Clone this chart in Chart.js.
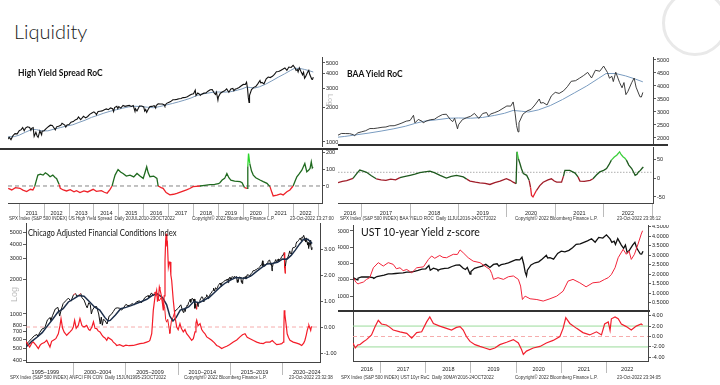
<!DOCTYPE html>
<html>
<head>
<meta charset="utf-8">
<title>Liquidity</title>
<script src="https://cdn.jsdelivr.net/npm/chart.js@4.4.1/dist/chart.umd.min.js"></script>
<style>
  html, body { margin: 0; padding: 0; background: #fff; }
  #page { position: relative; width: 720px; height: 385px; overflow: hidden; background: #fff; font-family: Lato, "Liberation Sans", sans-serif; color: #222; }
  canvas { position: absolute; }
  .txt { position: absolute; white-space: nowrap; line-height: 1; }
  .head { font-weight: 700; color: #111; }
  .foot { font-family: "Liberation Sans", Arial, sans-serif; font-size: 9px; transform: scale(0.5); transform-origin: 0 0; color: #333; }
  .bar { position: absolute; height: 2px; background: #333; }
  .log { position: absolute; color: #bbb; font-family: "Liberation Sans", sans-serif; white-space: nowrap; line-height: 1; }
</style>
</head>
<body>
<div id="page">
  <div class="txt" style="left:14px;top:21px;font-size:20px;font-weight:300;color:#1a1a1a">Liquidity</div>
  <div style="position:absolute;left:662px;top:-10px;width:60px;height:60px;border-radius:50%;border:3px solid #e9e9e9"></div>

  <canvas id="c1a" width="344" height="90" style="left:8px;top:57px"></canvas>
  <canvas id="c1b" width="344" height="68" style="left:8px;top:150px"></canvas>
  <canvas id="c2a" width="345" height="87" style="left:338px;top:57px"></canvas>
  <canvas id="c2b" width="345" height="71" style="left:338px;top:147px"></canvas>
  <canvas id="c3" width="350" height="152" style="left:0px;top:223px"></canvas>
  <canvas id="c4a" width="340" height="85" style="left:338px;top:225px"></canvas>
  <canvas id="c4b" width="340" height="61" style="left:338px;top:312px"></canvas>

  <div class="bar" style="left:0px;top:148px;width:338px"></div>
  <div class="bar" style="left:338px;top:144px;width:330px"></div>
  <div class="bar" style="left:338px;top:310px;width:312px"></div>

  <div class="txt head" style="left:18px;top:69px;font-size:8.5px">High Yield Spread RoC</div>
  <div class="txt head" style="left:347px;top:70px;font-size:8.5px">BAA Yield RoC</div>
  <div class="txt" style="left:28px;top:228px;font-size:9.8px;color:#111;transform:scaleX(0.78);transform-origin:0 0">Chicago Adjusted Financial Conditions Index</div>
  <div class="txt" style="left:361px;top:227px;font-size:10.5px;color:#111">UST 10-year Yield z-score</div>

  <div class="log" style="top:94px;font-size:7px;transform:rotate(90deg);transform-origin:0 0;left:334px">Log</div>
  <div class="log" style="left:10px;top:302px;font-size:9px;transform:rotate(-90deg);transform-origin:0 0">Log</div>

  <div class="txt foot" style="left:9px;top:215.5px">SPX Index (S&amp;P 500 INDEX) US High Yield Spread&nbsp; Daily 20JUL2010-23OCT2022</div>
  <div class="txt foot" style="left:192px;top:215.5px">Copyright© 2022 Bloomberg Finance L.P.</div>
  <div class="txt foot" style="left:290px;top:215.5px">23-Oct-2022 13:27:00</div>
  <div class="txt foot" style="left:340px;top:215.5px">SPX Index (S&amp;P 500 INDEX) BAA YIELD ROC&nbsp; Daily 11JUL2016-24OCT2022</div>
  <div class="txt foot" style="left:515px;top:215.5px">Copyright© 2022 Bloomberg Finance L.P.</div>
  <div class="txt foot" style="left:617px;top:215.5px">23-Oct-2022 23:36:12</div>
  <div class="txt foot" style="left:10px;top:374.5px">SPX Index (S&amp;P 500 INDEX) ANFCI FIN CON&nbsp; Daily 15JUN1995-23OCT2022</div>
  <div class="txt foot" style="left:184px;top:374.5px">Copyright© 2022 Bloomberg Finance L.P.</div>
  <div class="txt foot" style="left:289px;top:374.5px">23-Oct-2022 23:32:38</div>
  <div class="txt foot" style="left:341px;top:374.5px">SPX Index (S&amp;P 500 INDEX) UST 10yr RoC&nbsp; Daily 30MAY2016-24OCT2022</div>
  <div class="txt foot" style="left:515px;top:374.5px">Copyright© 2022 Bloomberg Finance L.P.</div>
  <div class="txt foot" style="left:617px;top:374.5px">23-Oct-2022 23:34:05</div>
</div>

<script>
// ---- data (decimal year, value) ----
const spx = [
  [1995.45,545],[1995.75,582],[1996.0,615],[1996.25,650],[1996.5,665],[1996.6,640],[1996.75,690],[1997.0,745],
  [1997.25,760],[1997.5,890],[1997.75,930],[1997.83,880],[1998.0,975],[1998.25,1105],[1998.5,1140],[1998.67,960],
  [1998.83,1100],[1999.0,1230],[1999.25,1300],[1999.5,1370],[1999.75,1290],[2000.0,1470],[2000.2,1500],[2000.3,1420],
  [2000.5,1450],[2000.7,1500],[2000.8,1380],[2001.0,1320],[2001.2,1180],[2001.3,1130],[2001.45,1250],[2001.6,1200],
  [2001.7,1000],[2001.8,1080],[2002.0,1150],[2002.2,1160],[2002.4,1000],[2002.55,820],[2002.65,940],[2002.75,800],
  [2002.85,900],[2003.0,880],[2003.2,820],[2003.4,960],[2003.6,990],[2003.8,1050],[2004.0,1120],[2004.2,1130],
  [2004.4,1120],[2004.6,1080],[2004.8,1140],[2005.0,1210],[2005.2,1180],[2005.4,1190],[2005.6,1230],[2005.8,1200],
  [2006.0,1270],[2006.3,1300],[2006.45,1250],[2006.6,1280],[2006.8,1380],[2007.0,1420],[2007.15,1440],[2007.2,1390],
  [2007.45,1520],[2007.6,1440],[2007.8,1550],[2008.0,1420],[2008.2,1300],[2008.4,1400],[2008.55,1250],[2008.7,1160],
  [2008.8,900],[2008.9,850],[2009.0,900],[2009.15,735],[2009.2,680],[2009.35,870],[2009.5,930],[2009.7,1060],
  [2009.9,1100],[2010.0,1120],[2010.25,1200],[2010.4,1080],[2010.5,1030],
  [2010.55,1070],[2010.6,1100],[2010.67,1050],[2010.75,1140],[2010.83,1185],[2010.92,1180],[2011.0,1258],[2011.08,1286],
  [2011.14,1340],[2011.2,1260],[2011.25,1326],[2011.33,1364],[2011.42,1345],[2011.47,1270],[2011.5,1320],[2011.56,1340],
  [2011.6,1120],[2011.67,1220],[2011.72,1130],[2011.76,1100],[2011.83,1253],[2011.9,1160],[2011.92,1247],[2012.0,1258],
  [2012.08,1312],[2012.17,1366],[2012.25,1408],[2012.33,1398],[2012.42,1310],[2012.45,1280],[2012.5,1362],[2012.58,1379],
  [2012.67,1406],[2012.72,1465],[2012.83,1412],[2012.87,1355],[2012.92,1416],[2013.0,1426],[2013.08,1498],[2013.17,1515],
  [2013.25,1569],[2013.33,1598],[2013.38,1669],[2013.47,1575],[2013.5,1606],[2013.58,1686],[2013.67,1633],[2013.75,1682],
  [2013.83,1757],[2013.92,1806],[2014.0,1848],[2014.08,1782],[2014.1,1741],[2014.17,1859],[2014.25,1872],[2014.33,1884],
  [2014.42,1924],[2014.5,1960],[2014.58,1931],[2014.67,2003],[2014.75,1972],[2014.79,1862],[2014.83,2018],[2014.92,2068],
  [2014.96,1972],[2015.0,2059],[2015.08,1995],[2015.17,2105],[2015.25,2068],[2015.33,2086],[2015.42,2107],[2015.5,2063],
  [2015.58,2104],[2015.65,1867],[2015.67,1972],[2015.73,1881],[2015.75,1920],[2015.83,2079],[2015.92,2080],[2016.0,2044],
  [2016.04,1880],[2016.08,1940],[2016.12,1829],[2016.17,1932],[2016.25,2060],[2016.33,2065],[2016.42,2097],[2016.48,2000],
  [2016.5,2099],[2016.58,2174],[2016.67,2171],[2016.75,2168],[2016.83,2126],[2016.85,2085],[2016.92,2199],[2017.0,2239],
  [2017.08,2279],[2017.17,2364],[2017.25,2363],[2017.33,2384],[2017.42,2412],[2017.5,2423],[2017.58,2470],[2017.67,2472],
  [2017.75,2519],[2017.83,2575],[2017.92,2648],[2018.0,2674],[2018.07,2873],[2018.1,2581],[2018.17,2714],[2018.25,2641],
  [2018.27,2582],[2018.33,2648],[2018.42,2705],[2018.5,2718],[2018.58,2816],[2018.67,2902],[2018.75,2914],[2018.83,2711],
  [2018.88,2630],[2018.92,2760],[2018.98,2351],[2019.0,2507],[2019.08,2704],[2019.17,2784],[2019.25,2834],[2019.33,2946],
  [2019.42,2752],[2019.5,2942],[2019.58,2980],[2019.62,2840],[2019.67,2926],[2019.75,2977],[2019.83,3038],[2019.92,3141],
  [2020.0,3231],[2020.08,3226],[2020.13,3386],[2020.17,2954],[2020.2,2480],[2020.23,2237],[2020.25,2585],[2020.33,2912],
  [2020.42,3044],[2020.5,3100],[2020.58,3271],[2020.67,3500],[2020.7,3340],[2020.75,3363],[2020.83,3270],[2020.92,3622],
  [2021.0,3756],[2021.08,3714],[2021.17,3811],[2021.25,3973],[2021.33,4181],[2021.42,4204],[2021.5,4298],[2021.58,4395],
  [2021.67,4523],[2021.75,4308],[2021.83,4605],[2021.92,4567],[2022.0,4766],[2022.08,4516],[2022.12,4300],[2022.17,4374],
  [2022.2,4170],[2022.25,4530],[2022.33,4132],[2022.38,3930],[2022.42,4132],[2022.46,3667],[2022.5,3785],[2022.58,4130],
  [2022.63,4305],[2022.67,3955],[2022.75,3586],[2022.78,3577],[2022.81,3752]
];

// moving average drawn in the two RoC panels
const spxMa = [
  [2010.45,1110],[2010.8,1115],[2011.0,1150],[2011.25,1220],[2011.5,1290],[2011.7,1285],[2011.9,1255],[2012.15,1255],
  [2012.4,1300],[2012.65,1340],[2012.9,1385],[2013.15,1420],[2013.4,1490],[2013.65,1560],[2013.9,1650],[2014.15,1720],
  [2014.4,1800],[2014.65,1870],[2014.9,1930],[2015.15,1990],[2015.4,2045],[2015.65,2070],[2015.9,2060],[2016.15,2030],
  [2016.4,2010],[2016.65,2060],[2016.9,2125],[2017.15,2190],[2017.4,2265],[2017.65,2350],[2017.9,2450],[2018.1,2560],
  [2018.3,2650],[2018.55,2700],[2018.8,2760],[2019.0,2770],[2019.25,2760],[2019.5,2790],[2019.75,2870],[2019.95,2950],
  [2020.13,3060],[2020.3,3030],[2020.45,3000],[2020.65,3080],[2020.9,3250],[2021.15,3480],[2021.4,3740],[2021.65,4000],
  [2021.9,4300],[2022.05,4480],[2022.25,4480],[2022.45,4390],[2022.65,4270],[2022.81,4160]
];

// moving average in the financial conditions panel
const spxMaLong = [
  [1995.45,520],[1996.0,580],[1996.5,630],[1997.0,690],[1997.5,790],[1998.0,900],[1998.5,1040],[1999.0,1110],
  [1999.5,1270],[2000.0,1350],[2000.5,1440],[2001.0,1420],[2001.5,1280],[2002.0,1150],[2002.5,1080],[2003.0,930],
  [2003.3,870],[2003.5,880],[2004.0,980],[2004.5,1110],[2005.0,1140],[2005.5,1180],[2006.0,1230],[2006.5,1280],
  [2007.0,1340],[2007.5,1440],[2008.0,1490],[2008.5,1390],[2008.9,1200],[2009.2,960],[2009.5,870],[2009.8,930],
  [2010.2,1080],[2010.6,1110],[2011.0,1150],[2011.5,1280],[2012.0,1250],[2012.5,1320],[2013.0,1400],[2013.5,1540],
  [2014.0,1700],[2014.5,1850],[2015.0,1960],[2015.5,2060],[2016.0,2040],[2016.5,2030],[2017.0,2140],[2017.5,2330],
  [2018.0,2520],[2018.5,2700],[2019.0,2720],[2019.5,2790],[2020.0,2980],[2020.4,2960],[2020.8,3200],[2021.2,3550],
  [2021.6,4000],[2022.0,4400],[2022.4,4400],[2022.81,4050]
];

const hyRoc = [
  [2010.56,-14],[2010.7,-24],[2010.85,-10],[2011.03,-14],[2011.15,-25],[2011.3,-34],[2011.45,-20],[2011.55,-24],
  [2011.62,-4],[2011.7,40],[2011.75,66],[2011.85,72],[2011.96,66],[2012.05,80],[2012.15,70],[2012.24,56],
  [2012.35,66],[2012.45,50],[2012.5,46],[2012.6,10],[2012.65,-14],[2012.77,-24],[2012.9,-30],[2013.05,-22],
  [2013.2,-35],[2013.3,-28],[2013.44,-40],[2013.6,-30],[2013.75,-36],[2013.97,-20],[2014.1,-32],[2014.3,-28],
  [2014.42,-38],[2014.53,-44],[2014.65,-20],[2014.73,0],[2014.8,40],[2014.85,66],[2014.97,100],[2015.07,85],
  [2015.17,76],[2015.3,60],[2015.45,66],[2015.6,55],[2015.73,76],[2015.85,60],[2015.98,46],[2016.05,80],
  [2016.12,116],[2016.18,80],[2016.25,56],[2016.4,60],[2016.53,46],[2016.58,0],[2016.7,-10],[2016.78,-14],
  [2016.9,-40],[2017.05,-54],[2017.2,-50],[2017.33,-44],[2017.5,-35],[2017.72,-24],[2017.85,-15],[2017.98,-4],
  [2018.1,-2],[2018.26,0],[2018.45,4],[2018.66,8],[2018.85,10],[2019.0,14],[2019.06,20],[2019.15,36],
  [2019.25,46],[2019.34,76],[2019.42,50],[2019.5,36],[2019.65,30],[2019.87,26],[2019.95,20],[2020.05,-10],
  [2020.15,-14],[2020.18,120],[2020.21,196],[2020.26,136],[2020.33,90],[2020.4,66],[2020.5,50],[2020.67,36],
  [2020.8,26],[2020.95,16],[2021.07,-4],[2021.15,-40],[2021.2,-60],[2021.35,-55],[2021.5,-48],[2021.6,-54],
  [2021.75,-35],[2021.87,-24],[2022.0,0],[2022.08,30],[2022.15,56],[2022.25,75],[2022.35,96],[2022.42,120],
  [2022.47,136],[2022.55,86],[2022.62,95],[2022.68,106],[2022.73,146],[2022.77,110],[2022.8,116]
];

const baaRoc = [
  [2016.51,-12],[2016.6,-9],[2016.69,-7],[2016.82,-1],[2016.9,12],[2016.96,21],[2017.03,18],[2017.1,15],
  [2017.2,6],[2017.3,-2],[2017.4,-5],[2017.5,-6],[2017.6,-3],[2017.7,-5],[2017.79,1],[2017.9,4],
  [2018.0,7],[2018.1,10],[2018.2,14],[2018.3,16],[2018.41,18],[2018.5,14],[2018.62,7],[2018.75,0],
  [2018.85,4],[2018.96,7],[2019.03,5],[2019.1,3],[2019.17,-3],[2019.24,-8],[2019.35,-11],[2019.44,-13],
  [2019.55,-14],[2019.65,-17],[2019.75,-12],[2019.86,-8],[2019.99,-2],[2020.07,-6],[2020.13,-11],[2020.19,-15],
  [2020.21,69],[2020.24,50],[2020.27,38],[2020.3,25],[2020.34,12],[2020.41,7],[2020.46,-6],[2020.49,-25],
  [2020.51,-46],[2020.54,-50],[2020.58,-40],[2020.61,-33],[2020.68,-20],[2020.75,-11],[2020.85,-5],[2020.92,-2],
  [2020.98,-8],[2021.03,-11],[2021.13,-11],[2021.17,5],[2021.2,20],[2021.3,20],[2021.41,13],[2021.47,3],
  [2021.51,-8],[2021.6,-9],[2021.72,-6],[2021.78,-2],[2021.85,8],[2021.92,16],[2022.0,20],[2022.06,25],
  [2022.11,35],[2022.16,47],[2022.22,55],[2022.27,60],[2022.33,69],[2022.36,62],[2022.4,56],[2022.44,52],
  [2022.47,47],[2022.52,34],[2022.58,25],[2022.62,15],[2022.65,7],[2022.69,10],[2022.72,16],[2022.76,20],
  [2022.79,25],[2022.82,29]
];

const anfci = [
  [1995.45,-0.55],[1995.6,-0.65],[1995.8,-0.77],[1996.0,-0.62],[1996.15,-0.58],[1996.4,-0.7],[1996.63,-0.83],[1996.8,-0.7],
  [1996.95,-0.64],[1997.2,-0.6],[1997.43,-0.51],[1997.6,-0.65],[1997.74,-0.77],[1997.9,-0.55],[1998.1,-0.5],[1998.3,-0.45],
  [1998.54,-0.26],[1998.7,0.05],[1998.8,0.32],[1998.95,-0.05],[1999.1,-0.2],[1999.34,-0.32],[1999.5,-0.25],[1999.66,-0.19],
  [1999.85,-0.1],[1999.97,0.0],[2000.1,0.26],[2000.25,-0.05],[2000.45,0.06],[2000.61,0.32],[2000.8,0.05],[2001.0,0.0],
  [2001.25,0.06],[2001.45,-0.1],[2001.57,-0.13],[2001.75,0.0],[2001.9,0.2],[2002.05,-0.05],[2002.21,-0.06],[2002.35,-0.15],
  [2002.52,-0.19],[2002.7,-0.3],[2002.84,-0.38],[2003.0,-0.42],[2003.17,-0.51],[2003.3,-0.4],[2003.48,-0.45],[2003.65,-0.5],
  [2003.8,-0.58],[2004.0,-0.65],[2004.12,-0.71],[2004.4,-0.68],[2004.75,-0.74],[2005.0,-0.7],[2005.3,-0.72],[2005.71,-0.71],
  [2006.0,-0.68],[2006.35,-0.64],[2006.7,-0.62],[2006.99,-0.58],[2007.2,-0.55],[2007.3,-0.51],[2007.47,-0.26],[2007.55,0.2],
  [2007.62,0.64],[2007.78,1.15],[2007.94,1.41],[2008.02,1.0],[2008.1,1.03],[2008.2,1.54],[2008.26,1.45],[2008.42,1.15],
  [2008.58,0.64],[2008.66,1.2],[2008.74,2.56],[2008.8,3.3],[2008.85,3.59],[2008.92,3.1],[2008.96,3.33],[2009.06,2.31],
  [2009.14,2.5],[2009.22,2.5],[2009.3,2.0],[2009.38,1.79],[2009.53,1.03],[2009.7,0.38],[2009.86,0.0],[2010.0,-0.1],
  [2010.17,0.13],[2010.3,-0.05],[2010.49,-0.19],[2010.65,-0.1],[2010.81,-0.26],[2011.0,-0.35],[2011.29,-0.51],[2011.45,-0.45],
  [2011.61,-0.19],[2011.7,0.15],[2011.77,0.26],[2011.9,0.05],[2012.09,0.13],[2012.25,-0.1],[2012.4,-0.19],[2012.55,-0.25],
  [2012.73,-0.38],[2013.0,-0.45],[2013.2,-0.51],[2013.45,-0.6],[2013.68,-0.71],[2013.9,-0.75],[2014.16,-0.83],[2014.4,-0.78],
  [2014.64,-0.74],[2014.9,-0.68],[2015.27,-0.58],[2015.6,-0.5],[2015.91,-0.38],[2016.15,-0.3],[2016.39,-0.26],[2016.6,-0.4],
  [2016.87,-0.45],[2017.2,-0.52],[2017.51,-0.58],[2017.8,-0.62],[2018.14,-0.64],[2018.4,-0.58],[2018.78,-0.58],[2019.0,-0.52],
  [2019.2,-0.6],[2019.42,-0.68],[2019.7,-0.66],[2019.9,-0.64],[2020.05,-0.58],[2020.1,-0.2],[2020.14,0.64],[2020.2,0.5],
  [2020.27,0.26],[2020.35,0.0],[2020.42,-0.26],[2020.55,-0.4],[2020.69,-0.51],[2021.0,-0.58],[2021.33,-0.62],[2021.6,-0.66],
  [2021.81,-0.71],[2022.0,-0.62],[2022.12,-0.51],[2022.25,-0.3],[2022.34,-0.13],[2022.45,0.02],[2022.5,0.06],[2022.6,-0.05],
  [2022.67,-0.13],[2022.73,0.0],[2022.77,0.03]
];

const ust10y = [
  [2016.41,1.8],[2016.45,1.6],[2016.5,1.5],[2016.54,1.54],[2016.62,1.6],[2016.69,1.74],[2016.76,1.83],[2016.84,2.35],
  [2016.95,2.62],[2017.06,2.44],[2017.17,2.62],[2017.28,2.53],[2017.35,2.3],[2017.43,2.35],[2017.5,2.2],[2017.58,2.26],
  [2017.69,2.09],[2017.8,2.35],[2017.95,2.4],[2018.06,2.79],[2018.13,2.97],[2018.2,2.85],[2018.31,3.0],[2018.38,2.9],
  [2018.46,2.88],[2018.61,3.06],[2018.7,3.05],[2018.76,3.29],[2018.83,3.14],[2018.94,2.88],[2019.05,2.7],[2019.2,2.62],
  [2019.31,2.44],[2019.42,2.26],[2019.46,2.05],[2019.5,1.74],[2019.6,1.83],[2019.72,1.74],[2019.83,1.88],[2019.94,1.92],
  [2020.05,1.74],[2020.1,1.39],[2020.14,0.68],[2020.2,0.86],[2020.31,0.72],[2020.46,0.68],[2020.6,0.6],[2020.75,0.72],
  [2020.9,0.86],[2021.04,1.12],[2021.15,1.65],[2021.26,1.74],[2021.41,1.56],[2021.55,1.35],[2021.7,1.56],[2021.85,1.6],
  [2021.96,1.74],[2022.04,1.83],[2022.11,2.0],[2022.19,2.35],[2022.26,2.88],[2022.37,3.32],[2022.44,3.06],[2022.5,3.23],
  [2022.55,2.79],[2022.62,3.06],[2022.7,3.6],[2022.77,4.12],[2022.8,4.3]
];

const ustZ = [
  [2016.39,-1.25],[2016.44,-2.2],[2016.5,-1.6],[2016.54,-1.56],[2016.62,-1.0],[2016.69,-0.6],[2016.8,0.3],[2016.88,1.9],
  [2016.95,3.1],[2017.02,2.4],[2017.13,2.2],[2017.2,1.8],[2017.28,1.25],[2017.43,0.9],[2017.58,0.6],[2017.69,-0.3],
  [2017.8,0.75],[2017.91,0.9],[2018.02,2.8],[2018.09,3.75],[2018.17,2.5],[2018.31,2.0],[2018.46,1.56],[2018.57,1.25],
  [2018.68,1.75],[2018.76,1.9],[2018.83,1.25],[2018.9,0],[2018.98,-0.94],[2019.09,-1.56],[2019.2,-1.9],[2019.31,-2.2],
  [2019.42,-2.5],[2019.53,-2.2],[2019.64,-1.56],[2019.79,-1.1],[2019.94,-0.6],[2020.05,-1.25],[2020.12,-2.5],[2020.16,-3.44],
  [2020.23,-2.8],[2020.38,-2.2],[2020.53,-1.9],[2020.67,-1.25],[2020.82,-0.75],[2020.97,0],[2021.04,1.56],[2021.1,3.6],
  [2021.19,2.5],[2021.34,1.56],[2021.48,0.75],[2021.63,0.3],[2021.78,0.9],[2021.89,0.3],[2021.96,2.4],[2022.04,2.8],
  [2022.08,1.2],[2022.11,3.4],[2022.19,3.75],[2022.26,3.4],[2022.33,2.4],[2022.44,1.9],[2022.55,1.25],[2022.66,2.0],
  [2022.77,2.4],[2022.8,2.2]
];

// reference levels
const hyZero = 0;
const baaRef = 15;
const afciZero = 0;
const zBands = [2, -2];
const zZero = 0;

// ticks and axis labels
const hyTicksUp = [1000, 2000, 3000, 4000, 5000];
const hyTicksLow = [0, 100, 200];
const baaTicksUp = [2000, 2500, 3000, 3500, 4000, 4500, 5000];
const baaTicksLow = [-50, 0, 50];
const afciTicksL = [400, 500, 600, 700, 800, 1000, 2000, 3000, 4000, 5000];
const afciTicksR = [-1, 0, 1, 2, 3];
const ustTicksL = [1000, 2000, 3000, 4000, 5000];
const ustTicksR = [0.5, 1, 1.5, 2, 2.5, 3, 3.5, 4, 4.5];
const ustTicksZ = [-4, -2, 0, 2, 4];
const hyYears = [2011, 2012, 2013, 2014, 2015, 2016, 2017, 2018, 2019, 2020, 2021, 2022];
const baaYears = [2016, 2017, 2018, 2019, 2020, 2021, 2022];
const ustYears = [2016, 2017, 2018, 2019, 2020, 2021, 2022];
const afciBandStart = [1995, 2000, 2005, 2010, 2015, 2020];
const afciBands = ['1995–1999', '2000–2004', '2005–2009', '2010–2014', '2015–2019', '2020–2024'];

// x ranges of each panel
const hyMin = 2010.55, hyMax = 2023.16;
const baaMin = 2016.51, baaMax = 2023.02;
const afciMin = 1995.45, afciMax = 2023.56;
const ustMin = 2016.39, ustMax = 2022.92;

Chart.defaults.font.family = '"Liberation Sans", Arial, sans-serif';

function pts(a) { return a.map(p => ({x: p[0], y: p[1]})); }
function from(a, x0) { return a.filter(p => p[0] >= x0); }

function line(data, color, width, axis, extra) {
  return Object.assign({
    data: pts(data), borderColor: color, borderWidth: width, pointRadius: 0,
    tension: 0, fill: false, yAxisID: axis || 'y'
  }, extra || {});
}

// horizontal reference line across the panel
function level(v, x0, x1, color, width, dash, axis) {
  return line([[x0, v], [x1, v]], color, width, axis, {borderDash: dash});
}

function yAxis(pos, type, min, max, ticks, digits, width) {
  return {
    type: type, position: pos, min: min, max: max, bounds: 'data',
    afterBuildTicks: s => { s.ticks = ticks.map(v => ({value: v})); },
    afterFit: s => { s.width = width; s.paddingTop = 0; s.paddingBottom = 0; },
    ticks: {
      display: digits >= 0, autoSkip: false, padding: 1, color: '#222', font: {size: 5.5},
      callback: v => digits >= 0 ? Number(v).toFixed(digits) : ''
    },
    grid: {drawOnChartArea: false, drawTicks: digits >= 0, tickLength: 3, tickColor: '#333', tickWidth: 0.8},
    border: {display: true, color: '#444', width: 1}
  };
}

function hiddenX(min, max) {
  return {type: 'linear', display: false, min: min, max: max, bounds: 'data'};
}

// bottom band: separators at boundaries, labels between them
function xBand(min, max, bounds, mids, labels, height, tick, pad) {
  const lab = {};
  mids.forEach((m, i) => { lab[m] = labels[i]; });
  const all = bounds.concat(mids).filter(v => v >= min && v <= max).sort((a, b) => a - b);
  return {
    type: 'linear', position: 'bottom', min: min, max: max, bounds: 'data',
    afterBuildTicks: s => { s.ticks = all.map(v => ({value: v})); },
    afterFit: s => { s.height = height; s.paddingLeft = 0; s.paddingRight = 0; },
    ticks: {
      autoSkip: false, maxRotation: 0, minRotation: 0, padding: pad, color: '#222', font: {size: 5.5},
      callback: v => lab[v] !== undefined ? String(lab[v]) : ''
    },
    grid: {
      drawOnChartArea: false, tickLength: tick, tickWidth: 0.8,
      tickColor: c => (c.tick && lab[c.tick.value] !== undefined) ? 'rgba(0,0,0,0)' : '#aaa'
    },
    border: {display: true, color: '#444', width: 1}
  };
}

function yearBounds(min, max) {
  const out = [];
  for (let y = Math.ceil(min); y <= max; y++) out.push(y);
  return out;
}
function yearMids(years, min, max) {
  return years.map(y => (Math.max(y, min) + Math.min(y + 1, max)) / 2);
}

function opts(scales) {
  return {
    responsive: false, animation: false, events: [],
    layout: {padding: 0, autoPadding: false},
    plugins: {legend: {display: false}, tooltip: {enabled: false}},
    scales: scales
  };
}

function anfciAt(x) {
  for (let i = 1; i < anfci.length; i++) {
    if (anfci[i][0] >= x) {
      const a = anfci[i - 1], b = anfci[i];
      return a[1] + (b[1] - a[1]) * (x - a[0]) / (b[0] - a[0]);
    }
  }
  return anfci[anfci.length - 1][1];
}

function hyColor(v) { return v > 150 ? '#2bd62b' : v >= 0 ? '#1f6a1f' : '#ee2229'; }
function baaColor(v) { return v > 45 ? '#3ccf3c' : v >= 0 ? '#1e5a1e' : v < -35 ? '#e5202c' : '#a01c28'; }
function midY(c) { return (c.p0.parsed.y + c.p1.parsed.y) / 2; }

// ---- panel 1: High Yield Spread RoC ----
new Chart(document.getElementById('c1a'), {
  type: 'line',
  data: {datasets: [
    line(from(spx, 2010.45), '#111', 1.1),
    line(spxMa, '#7d9bbb', 1)
  ]},
  options: opts({
    x: hiddenX(hyMin, hyMax),
    y: yAxis('right', 'logarithmic', 903, 5650, hyTicksUp, 0, 30)
  })
});

new Chart(document.getElementById('c1b'), {
  type: 'line',
  data: {datasets: [
    line(hyRoc, '#1f6a1f', 1.3, 'y', {segment: {borderColor: c => hyColor(midY(c))}}),
    level(hyZero, hyMin, hyMax, '#777', 0.9, [4, 3])
  ]},
  options: opts({
    x: xBand(hyMin, hyMax, yearBounds(hyMin, hyMax), yearMids(hyYears, hyMin, hyMax), hyYears, 15, 14, -7.3),
    y: yAxis('right', 'linear', -103, 218, hyTicksLow, 0, 30)
  })
});

// ---- panel 2: BAA Yield RoC ----
new Chart(document.getElementById('c2a'), {
  type: 'line',
  data: {datasets: [
    line(from(spx, 2016.4), '#2a2a2a', 0.9),
    line(from(spxMa, 2016.3), '#7a9cc0', 1)
  ]},
  options: opts({
    x: hiddenX(baaMin, baaMax),
    y: yAxis('right', 'linear', 1769, 5115, baaTicksUp, 0, 30)
  })
});

new Chart(document.getElementById('c2b'), {
  type: 'line',
  data: {datasets: [
    line(baaRoc, '#1e5a1e', 1.3, 'y', {segment: {borderColor: c => baaColor(midY(c))}}),
    level(baaRef, baaMin, baaMax, '#999', 0.8, [1.5, 1.5])
  ]},
  options: opts({
    x: xBand(baaMin, baaMax, yearBounds(baaMin, baaMax), yearMids(baaYears, baaMin, baaMax), baaYears, 15, 14, -7.3),
    y: yAxis('right', 'linear', -65.8, 81.6, baaTicksLow, 0, 30)
  })
});

// ---- panel 3: Chicago Adjusted Financial Conditions Index ----
new Chart(document.getElementById('c3'), {
  type: 'line',
  data: {datasets: [
    line(anfci, '#f41c28', 1.2, 'yr'),
    line(spxMaLong, '#1c2e4a', 1.5, 'yl'),
    line(spx, '#111', 1, 'yl', {segment: {borderColor: c => anfciAt((c.p0.parsed.x + c.p1.parsed.x) / 2) > 0.2 ? '#ee1c24' : '#111'}}),
    level(afciZero, afciMin, afciMax, '#f5a3a3', 0.9, [4, 3], 'yr')
  ]},
  options: opts({
    x: xBand(afciMin, afciMax, afciBandStart.slice(1), afciBandStart.map(s => s + 2.3), afciBands, 13, 13, -6.3),
    yl: yAxis('left', 'logarithmic', 385.6, 6087, afciTicksL, 0, 26),
    yr: yAxis('right', 'linear', -1.346, 4.0, afciTicksR, 2, 30)
  })
});

// ---- panel 4: UST 10-year Yield z-score ----
new Chart(document.getElementById('c4a'), {
  type: 'line',
  data: {datasets: [
    line(ust10y, '#f2243a', 1, 'y'),
    line(from(spx, 2016.3), '#111', 1.3, 'yl')
  ]},
  options: opts({
    x: hiddenX(ustMin, ustMax),
    yl: yAxis('left', 'linear', 139, 5369, ustTicksL, 0, 15),
    y: yAxis('right', 'linear', 0.13, 4.6, ustTicksR, 4, 30)
  })
});

new Chart(document.getElementById('c4b'), {
  type: 'line',
  data: {datasets: [
    line(ustZ, '#f2202e', 1.2, 'y'),
    level(zBands[0], ustMin, ustMax, '#9adb9a', 1, [], 'y'),
    level(zBands[1], ustMin, ustMax, '#9adb9a', 1, [], 'y'),
    level(zZero, ustMin, ustMax, '#f5a3a3', 0.9, [4, 3], 'y')
  ]},
  options: opts({
    x: xBand(ustMin, ustMax, yearBounds(ustMin, ustMax), yearMids(ustYears, ustMin, ustMax), ustYears, 12, 12, -7.3),
    yl: yAxis('left', 'linear', -4.7, 4.7, [], -1, 15),
    y: yAxis('right', 'linear', -4.7, 4.7, ustTicksZ, 2, 30)
  })
});
</script>
</body>
</html>
